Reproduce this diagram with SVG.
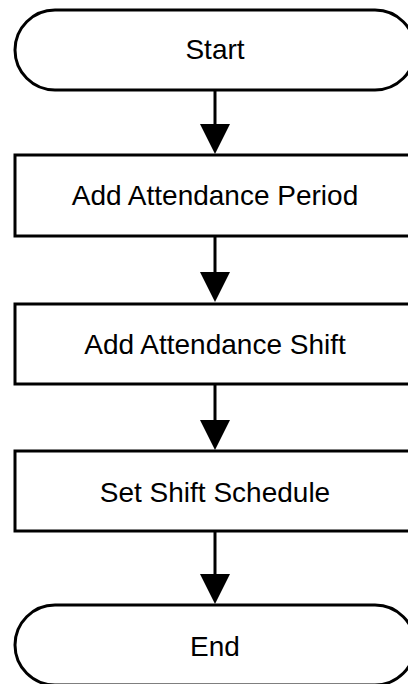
<svg xmlns="http://www.w3.org/2000/svg" width="408" height="684" viewBox="0 0 408 684">
  <style>
    .shape { fill: #ffffff; stroke: #000000; stroke-width: 3; }
    .label { font-family: "Liberation Sans", Arial, sans-serif; font-size: 28px; fill: #000000; text-anchor: middle; }
    .conn { stroke: #000000; stroke-width: 3; fill: none; }
  </style>
  <defs>
    <marker id="arrow" markerUnits="userSpaceOnUse" markerWidth="30" markerHeight="30" viewBox="0 0 30 30" refX="0" refY="15" orient="auto">
      <path d="M0,0 L30,15 L0,30 Z" fill="#000000"/>
    </marker>
  </defs>
  <rect width="408" height="684" fill="#ffffff"/>
  <g id="connectors">
    <line class="conn" x1="215" y1="91" x2="215" y2="124" marker-end="url(#arrow)"/>
    <line class="conn" x1="215" y1="237" x2="215" y2="272" marker-end="url(#arrow)"/>
    <line class="conn" x1="215" y1="385" x2="215" y2="420" marker-end="url(#arrow)"/>
    <line class="conn" x1="215" y1="532" x2="215" y2="574" marker-end="url(#arrow)"/>
  </g>
  <g id="start">
    <rect class="shape" x="15" y="10" width="400" height="80" rx="40" ry="40"/>
    <text class="label" x="215" y="59">Start</text>
  </g>
  <g id="add-attendance-period">
    <rect class="shape" x="15" y="155" width="400" height="81"/>
    <text class="label" x="215" y="205">Add Attendance Period</text>
  </g>
  <g id="add-attendance-shift">
    <rect class="shape" x="15" y="304" width="400" height="80"/>
    <text class="label" x="215" y="354">Add Attendance Shift</text>
  </g>
  <g id="set-shift-schedule">
    <rect class="shape" x="15" y="451" width="400" height="80"/>
    <text class="label" x="215" y="502">Set Shift Schedule</text>
  </g>
  <g id="end">
    <rect class="shape" x="15" y="605" width="400" height="80" rx="40" ry="40"/>
    <text class="label" x="215" y="656">End</text>
  </g>
</svg>
